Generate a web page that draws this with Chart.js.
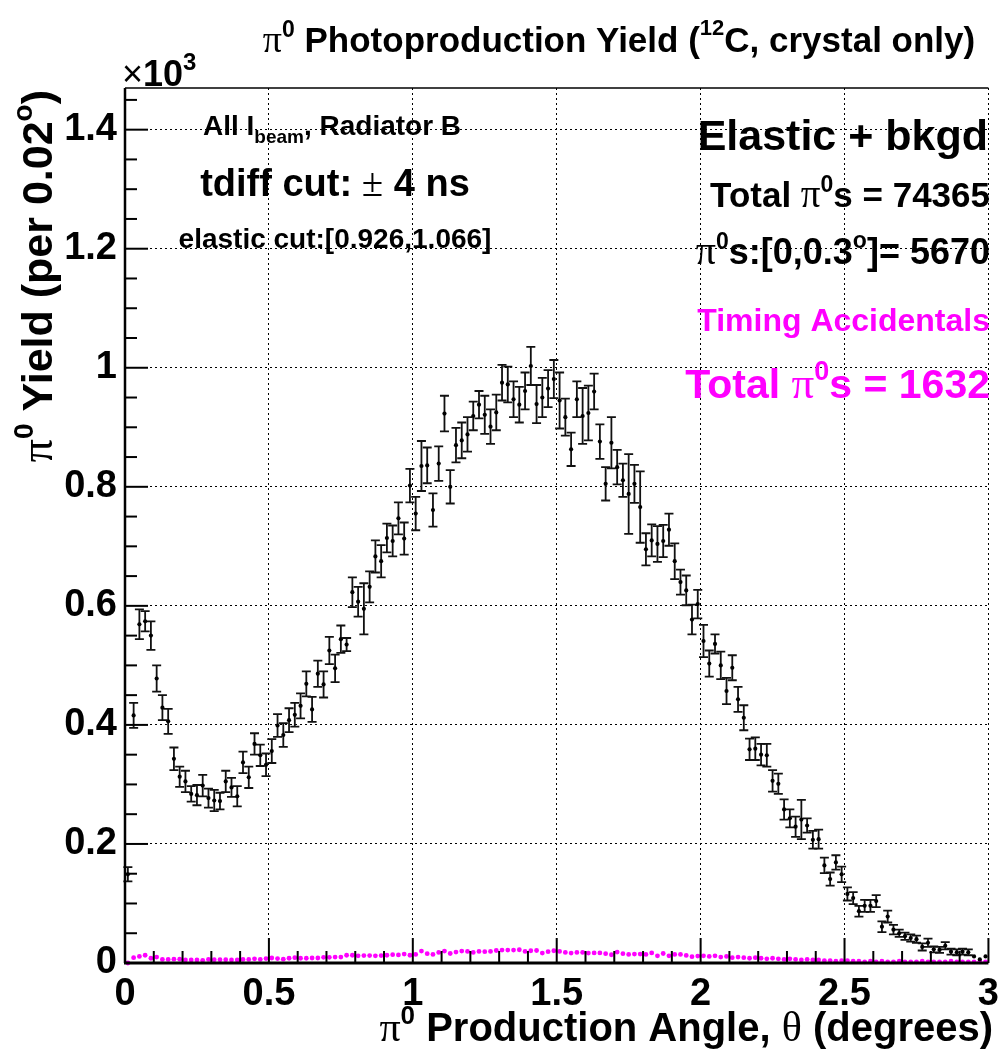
<!DOCTYPE html>
<html lang="en">
<head>
<meta charset="UTF-8">
<title>pi0 Photoproduction Yield</title>
<script src="https://cdn.jsdelivr.net/npm/chart.js@4.4.0/dist/chart.umd.min.js"></script>
<style>
html, body { margin: 0; padding: 0; background: #fff; }
#c { display: block; }
</style>
</head>
<body>
<canvas id="c" width="1008" height="1061"></canvas>
<script>
// histogram binning (degrees)
var binWidth = 0.02;

// Elastic + bkgd yield, x10^3 per bin
var yieldVals = [
0.149,0.416,0.569,0.574,0.550,0.478,0.429,0.406,0.343,0.313,
0.305,0.284,0.282,0.298,0.277,0.273,0.272,0.305,0.295,0.280,
0.337,0.312,0.368,0.349,0.333,0.356,0.399,0.383,0.408,0.417,
0.432,0.469,0.426,0.486,0.468,0.525,0.495,0.544,0.535,0.623,
0.607,0.595,0.632,0.683,0.675,0.714,0.709,0.747,0.713,0.802,
0.755,0.835,0.836,0.761,0.839,0.923,0.800,0.870,0.878,0.888,
0.919,0.938,0.921,0.901,0.925,0.975,0.972,0.947,0.938,0.961,
1.003,0.939,0.950,0.965,0.981,0.945,0.917,0.863,0.947,0.919,
0.924,0.960,0.876,0.805,0.874,0.833,0.811,0.788,0.805,0.766,
0.695,0.710,0.704,0.709,0.728,0.675,0.640,0.626,0.577,0.603,
0.541,0.503,0.536,0.500,0.457,0.496,0.443,0.412,0.359,0.360,
0.350,0.349,0.306,0.301,0.258,0.243,0.229,0.241,0.231,0.207,
0.208,0.164,0.141,0.169,0.149,0.116,0.109,0.087,0.096,0.096,
0.104,0.061,0.078,0.056,0.050,0.045,0.042,0.040,0.027,0.034,
0.023,0.022,0.029,0.019,0.018,0.019,0.018,0.011,0.006,0.011
];

// half-length of the error bars
var yieldErrs = [
0.012,0.021,0.025,0.017,0.024,0.022,0.021,0.021,0.019,0.017,
0.018,0.013,0.017,0.018,0.016,0.018,0.014,0.018,0.016,0.017,
0.018,0.018,0.018,0.018,0.019,0.020,0.019,0.020,0.020,0.020,
0.021,0.021,0.021,0.022,0.022,0.023,0.023,0.023,0.011,0.025,
0.025,0.043,0.026,0.027,0.027,0.024,0.026,0.027,0.027,0.028,
0.028,0.042,0.030,0.028,0.029,0.030,0.028,0.029,0.030,0.029,
0.024,0.023,0.032,0.029,0.030,0.030,0.030,0.030,0.030,0.031,
0.032,0.032,0.033,0.031,0.032,0.047,0.031,0.028,0.030,0.047,
0.046,0.030,0.029,0.028,0.043,0.029,0.028,0.067,0.032,0.060,
0.027,0.027,0.030,0.027,0.027,0.030,0.021,0.025,0.025,0.024,
0.027,0.022,0.016,0.023,0.022,0.021,0.021,0.021,0.018,0.019,
0.018,0.019,0.018,0.017,0.017,0.015,0.017,0.033,0.012,0.015,
0.016,0.013,0.011,0.012,0.013,0.011,0.010,0.009,0.010,0.010,
0.010,0.009,0.010,0.008,0.006,0.006,0.006,0.006,0.006,0.007,
0.005,0.005,0.006,0.005,0.005,0.005,0.005,0,0,0
];

// timing accidentals, x10^3 per bin
var accVals = [
0.000,0.009,0.011,0.013,0.008,0.010,0.006,0.006,0.0065,0.0065,
0.005,0.005,0.005,0.0045,0.006,0.0055,0.0055,0.0055,0.005,0.005,
0.006,0.006,0.007,0.006,0.0075,0.0084,0.0075,0.0065,0.008,0.009,
0.008,0.008,0.0084,0.0084,0.0095,0.0095,0.010,0.010,0.013,0.013,
0.012,0.0125,0.0125,0.012,0.0125,0.013,0.014,0.0135,0.015,0.013,
0.0144,0.020,0.0156,0.0144,0.0178,0.020,0.016,0.0184,0.020,0.0195,
0.0178,0.0195,0.019,0.0195,0.021,0.0217,0.0217,0.0217,0.0223,0.0195,
0.0206,0.021,0.0167,0.019,0.0206,0.0195,0.0178,0.0167,0.0178,0.0178,
0.0167,0.017,0.017,0.0156,0.0139,0.0184,0.0156,0.0144,0.015,0.015,
0.0144,0.017,0.012,0.016,0.012,0.0144,0.0144,0.0128,0.0106,0.0117,
0.012,0.011,0.012,0.010,0.011,0.009,0.010,0.009,0.008,0.009,
0.008,0.007,0.008,0.007,0.006,0.007,0.006,0.005,0.006,0.005,
0.005,0.004,0.004,0.003,0.004,0.004,0.003,0.003,0.002,0.003,
0.002,0.003,0.002,0.002,0.003,0.002,0.002,0.002,0.003,0.002,
0.002,0.002,0.002,0.003,0.002,0.002,0.002,0.002,0.002,0.002
];

var xTicks = [0, 0.5, 1, 1.5, 2, 2.5, 3];
var xTickLabels = ['0', '0.5', '1', '1.5', '2', '2.5', '3'];
var yTicks = [0, 0.2, 0.4, 0.6, 0.8, 1, 1.2, 1.4];
var yTickLabels = ['0', '0.2', '0.4', '0.6', '0.8', '1', '1.2', '1.4'];

var binCenters = yieldVals.map(function(v, i) { return (i + 0.5) * binWidth; });

var MAG = '#ff00ff';
function B(s) { return 'bold ' + s + 'px "Liberation Sans", Arial, sans-serif'; }
function S(s) { return s + 'px "Liberation Serif", "DejaVu Serif", serif'; }
function R(s) { return s + 'px "Liberation Sans", Arial, sans-serif'; }

// draw a run of text pieces (for super/subscripts and symbol glyphs)
function richText(ctx, parts, x, y, align, color) {
  var w = 0;
  parts.forEach(function(p) { ctx.font = p.f; p.w = ctx.measureText(p.t).width; w += p.w; });
  var cx = align === 'right' ? x - w : (align === 'center' ? x - w / 2 : x);
  ctx.textAlign = 'left';
  ctx.textBaseline = 'alphabetic';
  parts.forEach(function(p) {
    ctx.font = p.f;
    ctx.fillStyle = color;
    ctx.fillText(p.t, cx, y + (p.dy || 0));
    cx += p.w;
  });
}

var errorBars = {
  id: 'errorBars',
  beforeDatasetsDraw: function(chart) {
    var ctx = chart.ctx, xs = chart.scales.x, ys = chart.scales.y;
    ctx.save();
    ctx.strokeStyle = '#111';
    ctx.lineWidth = 1.8;
    for (var i = 0; i < yieldVals.length; i++) {
      if (!yieldErrs[i]) continue;
      var px = xs.getPixelForValue(binCenters[i]);
      var lo = ys.getPixelForValue(yieldVals[i] - yieldErrs[i]);
      var hi = ys.getPixelForValue(yieldVals[i] + yieldErrs[i]);
      ctx.beginPath();
      ctx.moveTo(px, lo); ctx.lineTo(px, hi);
      ctx.moveTo(px - 4.5, lo); ctx.lineTo(px + 4.5, lo);
      ctx.moveTo(px - 4.5, hi); ctx.lineTo(px + 4.5, hi);
      ctx.stroke();
    }
    ctx.restore();
  }
};

// ROOT-like frame: solid axes, inward ticks, texts
var frame = {
  id: 'frame',
  afterDatasetsDraw: function(chart) {
    var ctx = chart.ctx, a = chart.chartArea, xs = chart.scales.x, ys = chart.scales.y;
    ctx.save();
    ctx.strokeStyle = '#000';
    ctx.lineWidth = 1.5;
    ctx.beginPath(); ctx.moveTo(a.left, a.top); ctx.lineTo(a.right, a.top); ctx.stroke();
    ctx.lineWidth = 2.5;
    ctx.beginPath(); ctx.moveTo(a.left, a.top); ctx.lineTo(a.left, a.bottom); ctx.stroke();
    ctx.lineWidth = 3;
    ctx.beginPath(); ctx.moveTo(a.left - 1, a.bottom); ctx.lineTo(a.right, a.bottom); ctx.stroke();

    ctx.lineWidth = 2;
    var k, v, p;
    for (k = 0; k <= 30; k++) {
      v = k * 0.1;
      p = xs.getPixelForValue(v);
      ctx.beginPath(); ctx.moveTo(p, a.bottom); ctx.lineTo(p, a.bottom - (k % 5 === 0 ? 25 : 12)); ctx.stroke();
    }
    for (k = 0; k <= 29; k++) {
      v = k * 0.05;
      p = ys.getPixelForValue(v);
      ctx.beginPath(); ctx.moveTo(a.left, p); ctx.lineTo(a.left + (k % 4 === 0 ? 23 : 12), p); ctx.stroke();
    }
    ctx.restore();
  },
  afterDraw: function(chart) {
    var ctx = chart.ctx;
    ctx.save();
    // title
    richText(ctx, [
      {t: '\u03c0', f: S(38)}, {t: '0', f: B(23), dy: -15},
      {t: ' Photoproduction Yield (', f: B(35)},
      {t: '12', f: B(22), dy: -17},
      {t: 'C, crystal only)', f: B(35)}
    ], 619, 52, 'center', '#000');
    // exponent
    richText(ctx, [
      {t: '\u00d7', f: R(36)}, {t: '10', f: B(36)}, {t: '3', f: B(24), dy: -16}
    ], 122, 86, 'left', '#000');
    // x title
    richText(ctx, [
      {t: '\u03c0', f: S(42)}, {t: '0', f: B(26), dy: -17},
      {t: ' Production Angle, ', f: B(40)},
      {t: '\u03b8', f: S(42)},
      {t: ' (degrees)', f: B(40)}
    ], 993, 1041, 'right', '#000');
    // y title
    ctx.save();
    ctx.translate(52, 90);
    ctx.rotate(-Math.PI / 2);
    richText(ctx, [
      {t: '\u03c0', f: S(46)}, {t: '0', f: B(28), dy: -19},
      {t: ' Yield (per 0.02', f: B(43)},
      {t: 'o', f: B(28), dy: -20},
      {t: ')', f: B(43)}
    ], 0, 0, 'right', '#000');
    ctx.restore();

    // left box
    richText(ctx, [
      {t: 'All I', f: B(28)}, {t: 'beam', f: B(19), dy: 8}, {t: ', Radiator B', f: B(28)}
    ], 332, 135, 'center', '#000');
    richText(ctx, [
      {t: 'tdiff cut:', f: B(38)}, {t: ' \u00b1', f: S(39)}, {t: ' 4 ns', f: B(38)}
    ], 335, 196, 'center', '#000');
    richText(ctx, [{t: 'elastic cut:[0.926,1.066]', f: B(28)}], 335, 248, 'center', '#000');

    // right box
    richText(ctx, [{t: 'Elastic + bkgd', f: B(43)}], 988, 150, 'right', '#000');
    richText(ctx, [
      {t: 'Total ', f: B(35)}, {t: '\u03c0', f: S(39)}, {t: '0', f: B(23), dy: -15},
      {t: 's = 74365', f: B(35)}
    ], 990, 207, 'right', '#000');
    richText(ctx, [
      {t: '\u03c0', f: S(40)}, {t: '0', f: B(23), dy: -15},
      {t: 's:[0,0.3', f: B(36)}, {t: 'o', f: B(23), dy: -16},
      {t: ']= 5670', f: B(36)}
    ], 990, 264, 'right', '#000');
    richText(ctx, [{t: 'Timing Accidentals', f: B(32)}], 990, 331, 'right', MAG);
    richText(ctx, [
      {t: 'Total ', f: B(41)}, {t: '\u03c0', f: S(45)}, {t: '0', f: B(27), dy: -18},
      {t: 's = 1632', f: B(41)}
    ], 990, 398, 'right', MAG);
    ctx.restore();
  }
};

new Chart(document.getElementById('c'), {
  type: 'scatter',
  data: {
    datasets: [{
      data: yieldVals.map(function(v, i) { return {x: binCenters[i], y: v}; }),
      pointRadius: 2.1,
      pointBorderWidth: 0,
      backgroundColor: '#000',
      borderColor: '#000'
    }, {
      data: accVals.map(function(v, i) { return {x: binCenters[i], y: v}; }),
      pointRadius: 2.4,
      pointBorderWidth: 0,
      backgroundColor: MAG,
      borderColor: MAG,
      clip: false
    }]
  },
  options: {
    responsive: false,
    animation: false,
    devicePixelRatio: 1,
    layout: { padding: { top: 88, right: 12, left: 0, bottom: 0 } },
    plugins: { legend: { display: false }, tooltip: { enabled: false } },
    scales: {
      x: {
        type: 'linear', min: 0, max: 3,
        afterBuildTicks: function(s) { s.ticks = xTicks.map(function(v) { return {value: v}; }); },
        afterFit: function(s) { s.height = 98; },
        grid: { color: '#000', lineWidth: 1, drawTicks: false },
        border: { display: false, dash: [2, 3] },
        ticks: {
          autoSkip: false, maxRotation: 0, padding: 9, color: '#000',
          font: { family: '"Liberation Sans", Arial, sans-serif', size: 38, weight: 'bold' },
          callback: function(v, i) { return xTickLabels[i]; }
        }
      },
      y: {
        type: 'linear', min: 0, max: 1.47,
        afterBuildTicks: function(s) { s.ticks = yTicks.map(function(v) { return {value: v}; }); },
        afterFit: function(s) { s.width = 125; },
        grid: { color: '#000', lineWidth: 1, drawTicks: false },
        border: { display: false, dash: [2, 3] },
        ticks: {
          autoSkip: false, padding: 8, color: '#000',
          font: { family: '"Liberation Sans", Arial, sans-serif', size: 38, weight: 'bold' },
          callback: function(v, i) { return yTickLabels[i]; }
        }
      }
    }
  },
  plugins: [errorBars, frame]
});
</script>
</body>
</html>
